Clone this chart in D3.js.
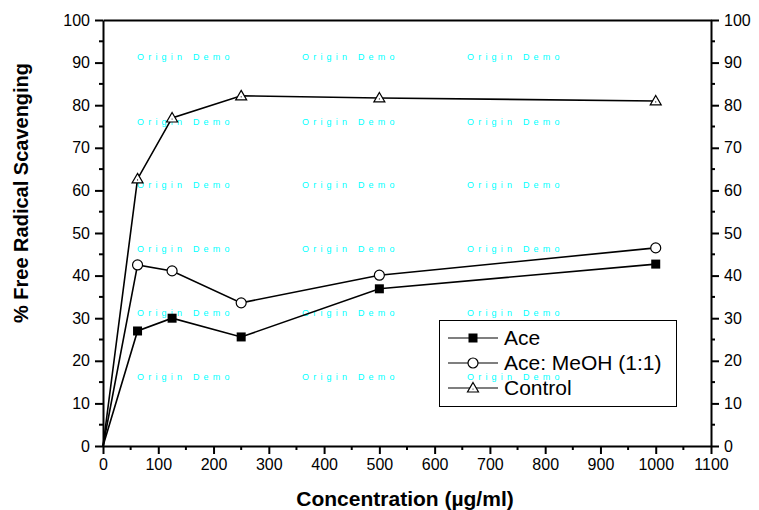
<!DOCTYPE html>
<html>
<head>
<meta charset="utf-8">
<script src="https://cdn.jsdelivr.net/npm/d3@7"></script>
<style>
  body { margin: 0; background: #fff; }
  svg { display: block; font-family: "Liberation Sans", Arial, sans-serif; }
</style>
</head>
<body>
<div id="chart"></div>
<script>
// concentrations (µg/ml)
const conc = [0, 62.5, 125, 250, 500, 1000];
const aceVals = [0, 27.0, 30.0, 25.6, 36.9, 42.7];
const meohVals = [0, 42.5, 41.1, 33.6, 40.1, 46.5];
const controlVals = [0, 62.7, 77.0, 82.2, 81.7, 81.0];
const seriesNames = ["Ace", "Ace: MeOH (1:1)", "Control"];
const xTicks = d3.range(0, 1101, 100);
const yTicks = d3.range(0, 101, 10);

const width = 759, height = 510;
const margin = { left: 103, right: 48, top: 20, bottom: 64 };

const svg = d3.select("#chart").append("svg")
  .attr("width", width)
  .attr("height", height);

const x = d3.scaleLinear().domain([0, 1100]).range([margin.left, width - margin.right]);
const y = d3.scaleLinear().domain([0, 100]).range([height - margin.bottom, margin.top]);

// watermark text
const wmCols = [137, 302, 467];
const wmRows = [57, 122, 185, 249, 313, 377];
const wm = svg.append("g").attr("fill", "#00ffff")
  .style("font-size", "9px").style("letter-spacing", "4.2px");
wmRows.forEach(r => wmCols.forEach(c => {
  wm.append("text").attr("x", c).attr("y", r + 3).text("Origin Demo");
}));

// axes
function styleAxis(g) {
  g.select(".domain").attr("stroke", "#000").attr("stroke-width", 2);
  g.selectAll(".tick line").attr("stroke", "#000").attr("stroke-width", 2);
  g.selectAll(".tick text").style("font-size", "16px").attr("fill", "#000");
}

const minorX = d3.range(50, 1100, 100);
const minorY = d3.range(5, 100, 10);
const fmt = d3.format("d");

const xAxis = svg.append("g")
  .attr("transform", `translate(0,${y(0)})`)
  .call(d3.axisBottom(x).tickValues(xTicks).tickFormat(fmt).tickSize(8).tickPadding(5).tickSizeOuter(0));
styleAxis(xAxis);
xAxis.selectAll(".minor").data(minorX).join("line")
  .attr("x1", d => x(d)).attr("x2", d => x(d)).attr("y1", 0).attr("y2", 4)
  .attr("stroke", "#000").attr("stroke-width", 2);

const xTop = svg.append("g")
  .attr("transform", `translate(0,${y(100)})`)
  .call(d3.axisTop(x).tickValues([]).tickSizeOuter(0));
styleAxis(xTop);

const yAxis = svg.append("g")
  .attr("transform", `translate(${x(0)},0)`)
  .call(d3.axisLeft(y).tickValues(yTicks).tickFormat(fmt).tickSize(8).tickPadding(5).tickSizeOuter(0));
styleAxis(yAxis);
yAxis.selectAll(".minor").data(minorY).join("line")
  .attr("y1", d => y(d)).attr("y2", d => y(d)).attr("x1", 0).attr("x2", -4)
  .attr("stroke", "#000").attr("stroke-width", 2);

const yRight = svg.append("g")
  .attr("transform", `translate(${x(1100)},0)`)
  .call(d3.axisRight(y).tickValues(yTicks).tickFormat(fmt).tickSize(8).tickPadding(5).tickSizeOuter(0));
styleAxis(yRight);
yRight.selectAll(".minor").data(minorY).join("line")
  .attr("y1", d => y(d)).attr("y2", d => y(d)).attr("x1", 0).attr("x2", 4)
  .attr("stroke", "#000").attr("stroke-width", 2);

// axis titles
svg.append("text")
  .attr("x", 405).attr("y", 506)
  .attr("text-anchor", "middle")
  .style("font-size", "21px").style("font-weight", "bold")
  .text("Concentration (µg/ml)");

svg.append("text")
  .attr("transform", "translate(28,193) rotate(-90)")
  .attr("text-anchor", "middle")
  .style("font-size", "20px").style("font-weight", "bold")
  .text("% Free Radical Scavenging");

// series
const series = [aceVals, meohVals, controlVals].map((vals, i) => ({
  name: seriesNames[i],
  shape: ["square", "circle", "triangle"][i],
  points: conc.map((c, j) => [c, vals[j]])
}));

const line = d3.line().x(d => x(d[0])).y(d => y(d[1]));

function drawMarker(g, shape, cx, cy) {
  if (shape === "square") {
    g.append("rect").attr("x", cx - 4.5).attr("y", cy - 4.5)
      .attr("width", 9).attr("height", 9).attr("fill", "#000");
  } else if (shape === "circle") {
    g.append("circle").attr("cx", cx).attr("cy", cy).attr("r", 5)
      .attr("fill", "#fff").attr("stroke", "#000").attr("stroke-width", 1.2);
  } else {
    g.append("path")
      .attr("d", `M${cx},${cy - 5.5}L${cx + 5.5},${cy + 4}L${cx - 5.5},${cy + 4}Z`)
      .attr("fill", "#fff").attr("stroke", "#000").attr("stroke-width", 1.2);
    g.append("circle").attr("cx", cx).attr("cy", cy + 1).attr("r", 0.6).attr("fill", "#000");
  }
}

series.forEach(s => {
  svg.append("path").datum(s.points)
    .attr("d", line).attr("fill", "none")
    .attr("stroke", "#000").attr("stroke-width", 1.6);
});
series.forEach(s => {
  const g = svg.append("g");
  s.points.filter(p => p[0] > 0).forEach(p => drawMarker(g, s.shape, x(p[0]), y(p[1])));
});

// legend
const legend = svg.append("g");
legend.append("rect")
  .attr("x", 439.5).attr("y", 320.5).attr("width", 237).attr("height", 86)
  .attr("fill", "none").attr("stroke", "#000").attr("stroke-width", 1);
series.forEach((s, i) => {
  const ly = 338 + i * 25;
  legend.append("line").attr("x1", 448).attr("x2", 498).attr("y1", ly).attr("y2", ly)
    .attr("stroke", "#000").attr("stroke-width", 1.2);
  drawMarker(legend, s.shape, 473, ly);
  legend.append("text").attr("x", 504).attr("y", ly + 7)
    .style("font-size", "21px").text(s.name);
});
</script>
</body>
</html>
